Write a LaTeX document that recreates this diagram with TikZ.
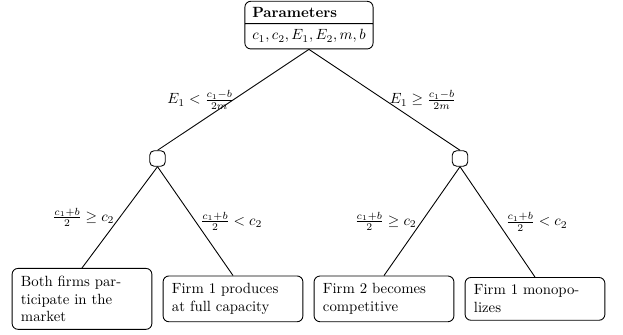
\documentclass[tikz,border=0pt]{standalone}
\usepackage{amsmath}
\usepackage{amssymb}
\usetikzlibrary{shapes.multipart}

\begin{document}
\begin{tikzpicture}[
    param/.style={draw, semithick, rounded corners=4pt, rectangle split,
        rectangle split parts=2, rectangle split part align={left},
        inner xsep=5pt, inner ysep=3.8pt},
    choice/.style={draw, semithick, rounded corners=3pt, minimum size=10.5pt, inner sep=0pt},
    outcome/.style={draw, semithick, rounded corners=4pt, text width=2.9cm,
        align=left, inner xsep=6pt, inner ysep=5pt},
    branch/.style={semithick}
]

    % Define parameters
    \def\leafsep{3.587} % Horizontal distance between outcomes
    \def\leafy{-7.10}   % Height of the outcome row
    \def\choicey{-3.765} % Height of the decision nodes

    % Frame of the picture
    \useasboundingbox (0,0) rectangle (14.8,-7.958);

    % Root with the model parameters
    \node[param, anchor=north] (root) at (7.34,-0.02) {\textbf{Parameters}\nodepart{two}$c_1, c_2, E_1, E_2, m, b$};

    % Decision nodes
    \node[choice] (lowE) at (3.742,\choicey) {};
    \node[choice] (highE) at (10.928,\choicey) {};

    % Outcomes
    \node[outcome] (both) at (1.948,\leafy) {Both firms par\-ticipate in the market};
    \node[outcome] (full) at (1.948+\leafsep,\leafy) {Firm 1 produces at full capacity};
    \node[outcome] (comp) at (1.948+2*\leafsep,\leafy) {Firm 2 becomes competitive};
    \node[outcome] (mono) at (1.948+3*\leafsep,\leafy) {Firm 1 monopo\-lizes};

    % Branches of the first split
    \draw[branch] (root.south) -- node[midway, left, xshift=4pt] {$E_1 < \frac{c_1-b}{2m}$} (lowE.north);
    \draw[branch] (root.south) -- node[midway, right] {$E_1 \geq \frac{c_1-b}{2m}$} (highE.north);

    % Branches of the second split
    \draw[branch] (lowE.south) -- node[midway, left] {$\frac{c_1+b}{2} \geq c_2$} (both.north);
    \draw[branch] (lowE.south) -- node[midway, right] {$\frac{c_1+b}{2} < c_2$} (full.north);
    \draw[branch] (highE.south) -- node[midway, left] {$\frac{c_1+b}{2} \geq c_2$} (comp.north);
    \draw[branch] (highE.south) -- node[midway, right, xshift=2pt] {$\frac{c_1+b}{2} < c_2$} (mono.north);
\end{tikzpicture}
\end{document}
